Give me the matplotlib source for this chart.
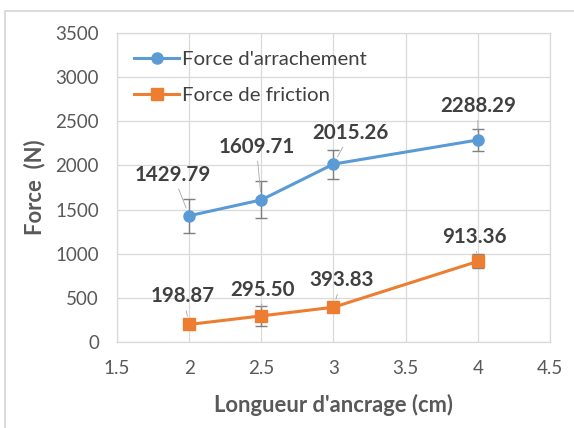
import matplotlib
matplotlib.use("Agg")
import matplotlib.pyplot as plt
from matplotlib.patches import Rectangle
from matplotlib.lines import Line2D

# anchorage length (cm) and measured forces (N)
longueur = [2, 2.5, 3, 4]
arrachement = [1429.79, 1609.71, 2015.26, 2288.29]
arrachement_err = [190, 210, 165, 125]
friction = [198.87, 295.50, 393.83, 913.36]
friction_err = [20, 110, 40, 80]

# label offsets in pixels (dx, dy) from each point
off_arr = [(-16, 41), (-5, 53), (17, 31), (0, 34)]
off_fri = [(-6, 28), (1, 26), (8, 27), (-3, 24)]

BLUE = "#5b9bd5"
ORANGE = "#ed7d31"
GRID = "#d9d9d9"
TXT = "#595959"
LBL = "#404040"

plt.rcParams["font.family"] = ["Lato", "DejaVu Sans"]

fig = plt.figure(figsize=(5.74, 4.28), dpi=100)
ax = fig.add_axes([117/574, 1 - 342/428, (550 - 117)/574, (342 - 33)/428])

# chart border
fig.patches.append(Rectangle((5/574, -0.1), 1.1, 1 - 11/428 + 0.1,
                             transform=fig.transFigure, fill=False,
                             edgecolor=GRID, lw=1.3))

series = [
    (arrachement, arrachement_err, BLUE, "o", "Force d'arrachement", off_arr),
    (friction, friction_err, ORANGE, "s", "Force de friction", off_fri),
]
handles = []
for ys, err, col, mk, name, offs in series:
    ax.errorbar(longueur, ys, yerr=err, color=col, lw=2.2, marker=mk, ms=8,
                ecolor="#7f7f7f", elinewidth=1, capsize=4, capthick=1, zorder=3)
    handles.append(Line2D([], [], color=col, lw=2.2, marker=mk, ms=8, label=name))
    for x, y, (dx, dy) in zip(longueur, ys, offs):
        ax.annotate(f"{y:.2f}", (x, y), xytext=(dx, dy), textcoords="offset pixels",
                    ha="center", va="center", fontsize=14.8, fontweight="bold", color=LBL,
                    arrowprops=dict(arrowstyle="-", color="#a6a6a6", lw=0.6,
                                    shrinkA=1, shrinkB=6))

ax.set_xlim(1.5, 4.5)
ax.set_ylim(0, 3500)
ax.set_xticks([1.5, 2, 2.5, 3, 3.5, 4, 4.5])
ax.set_xticklabels(["1.5", "2", "2.5", "3", "3.5", "4", "4.5"])
ax.set_yticks(range(0, 3501, 500))
ax.grid(True, color=GRID, lw=0.9)
ax.set_axisbelow(True)
for s in ax.spines.values():
    s.set_color(GRID)
    s.set_linewidth(0.9)
ax.tick_params(length=0, labelsize=13.5, labelcolor=TXT)
ax.tick_params(axis="y", pad=13)
ax.tick_params(axis="x", pad=13)

ax.set_xlabel("Longueur d'ancrage (cm)", fontsize=15.8, fontweight="bold",
              color=TXT, labelpad=12)
ax.set_ylabel("Force  (N)", fontsize=15.8, fontweight="bold", color=TXT,
              labelpad=7)

ax.legend(handles=handles, loc="upper left", frameon=False, fontsize=14.7,
          handlelength=2.2, handletextpad=0.15, labelspacing=0.95,
          borderaxespad=0.45, labelcolor=LBL)

fig.savefig("out.png", dpi=100)
